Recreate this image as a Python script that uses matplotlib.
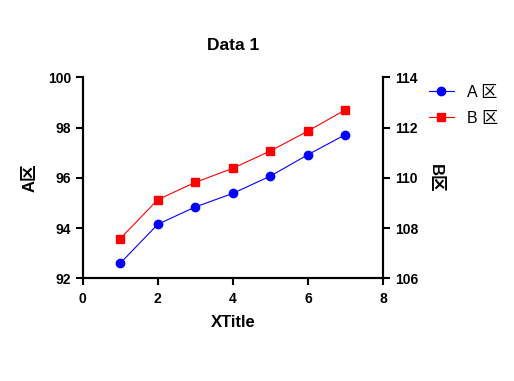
import matplotlib
matplotlib.use("Agg")
import matplotlib.pyplot as plt

plt.rcParams['font.family'] = ['Liberation Sans', 'Noto Sans CJK SC', 'DejaVu Sans']

# Data
x = [1, 2, 3, 4, 5, 6, 7]
a_vals = [92.60, 94.15, 94.84, 95.38, 96.07, 96.92, 97.72]
b_vals = [107.58, 109.13, 109.82, 110.38, 111.07, 111.86, 112.71]
x_ticks = [0, 2, 4, 6, 8]
a_ticks = [92, 94, 96, 98, 100]
b_ticks = [106, 108, 110, 112, 114]

fig = plt.figure(figsize=(5.14, 3.81), dpi=100)
ax = fig.add_axes([0.161, 0.2696, 0.584, 0.5274])
ax2 = ax.twinx()

la, = ax.plot(x, a_vals, color='blue', marker='o', markersize=6, linewidth=0.8, label='A 区')
lb, = ax2.plot(x, b_vals, color='red', marker='s', markersize=6, linewidth=0.8, label='B 区')

ax.set_xlim(0, 8)
ax.set_ylim(92, 100)
ax2.set_ylim(106, 114)
ax.set_xticks(x_ticks)
ax.set_yticks(a_ticks)
ax2.set_yticks(b_ticks)

for a in (ax, ax2):
    a.spines['top'].set_visible(False)
    for s in a.spines.values():
        s.set_linewidth(1.5)
    a.tick_params(direction='out', length=5, width=1.5, labelsize=10)
    for lab in a.get_xticklabels() + a.get_yticklabels():
        lab.set_fontweight('bold')
ax.tick_params(axis='x', pad=5)

cjk = ['Liberation Sans', 'Noto Sans CJK SC', 'DejaVu Sans']
ax.set_xlabel('XTitle', fontsize=12, fontweight='bold', labelpad=6)
ax.set_ylabel('A区', fontsize=12, fontweight='bold', family=cjk, labelpad=7)
ax2.set_ylabel('B区', fontsize=12, fontweight='bold', rotation=270, labelpad=18, family=cjk)
ax.set_title('Data 1', fontsize=12.5, fontweight='bold', pad=20)

fig.legend([la, lb], ['A 区', 'B 区'], loc='upper left', bbox_to_anchor=(0.806, 0.815),
           frameon=False, handlelength=1.6, handletextpad=0.8, labelspacing=0.7,
           prop={'family': cjk, 'size': 11.5})

fig.savefig('out.png', dpi=100)
